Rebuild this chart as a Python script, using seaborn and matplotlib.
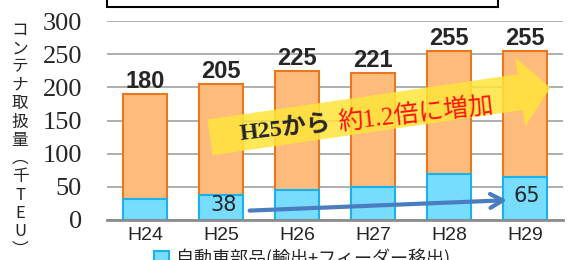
import matplotlib
matplotlib.use('Agg')
import matplotlib.pyplot as plt
from matplotlib.patches import Rectangle, FancyArrowPatch, Patch
import pandas as pd
import seaborn as sns

sns.set_style('white')
plt.rcParams['font.family'] = ['Liberation Sans', 'Noto Sans CJK JP', 'DejaVu Sans']

years = ['H24', 'H25', 'H26', 'H27', 'H28', 'H29']
total = [190, 205, 225, 221, 255, 255]          # bar heights as drawn
total_labels = ['180', '205', '225', '221', '255', '255']
parts = [32, 38, 45, 49, 69, 65]                 # 自動車部品
parts_labels = {1: '38', 5: '65'}
legend_label = '自動車部品(輸出+フィーダー移出)'
ylabel_chars = ['コ', 'ン', 'テ', 'ナ', '取', '扱', '量', '︵', '千', 'T', 'E', 'U', '︶']

df = pd.DataFrame({'year': years, 'total': total, 'parts': parts})

fig = plt.figure(figsize=(5.73, 2.6), dpi=100)
ax = fig.add_axes([107 / 573, 40 / 260, 456 / 573, 199 / 260])

sns.barplot(data=df, x='year', y='total', color='#FDBB7C', edgecolor='#E8771F',
            linewidth=1.5, width=0.58, saturation=1, ax=ax, zorder=2)
sns.barplot(data=df, x='year', y='parts', color='#78DCFF', edgecolor='#1AB2EC',
            linewidth=1.5, width=0.58, saturation=1, ax=ax, zorder=3)

ax.set_xlim(-0.5, 5.5)
ax.set_ylim(0, 300)
ax.set_yticks(range(0, 301, 50))
ax.grid(axis='y', color='#A8A8A8', lw=1.3, zorder=0)
ax.set_axisbelow(True)
for s in ['top', 'right', 'left']:
    ax.spines[s].set_visible(False)
ax.spines['bottom'].set_color('#8C8C8C')
ax.spines['bottom'].set_linewidth(2)
ax.spines['bottom'].set_zorder(5)
ax.tick_params(length=0)
ax.tick_params(axis='y', pad=18, labelsize=19, labelfontfamily='Liberation Serif')
ax.tick_params(axis='x', pad=5, labelsize=14)
ax.set_xlabel('')
ax.set_ylabel('')

for i, lab in enumerate(total_labels):
    ax.text(i, total[i] + 9, lab, ha='center', va='baseline', fontsize=17,
            fontweight='bold', zorder=6)
for i, lab in parts_labels.items():
    ax.text(i + 0.03, parts[i] / 2 + 4, lab, ha='center', va='center', fontsize=15,
            family=['Liberation Sans Narrow', 'DejaVu Sans'], zorder=6)

# yellow arrow
ax.add_patch(FancyArrowPatch((0.82, 124), (5.37, 200),
             arrowstyle='simple,tail_width=2.6,head_width=5,head_length=2.2',
             mutation_scale=10, facecolor='#FFE53A', edgecolor='none',
             alpha=0.85, zorder=7))
ax.text(1.25, 120, 'H25から', rotation=6.5, rotation_mode='anchor', ha='left',
        va='baseline', fontsize=17.5, fontweight='bold',
        family=['Liberation Serif', 'Noto Sans CJK JP'], zorder=8)
ax.text(2.55, 136, '約1.2倍に増加', rotation=6.5, rotation_mode='anchor', ha='left',
        va='baseline', fontsize=18, color='#FF1010',
        family=['Liberation Serif', 'Noto Sans CJK JP'], zorder=8)

# blue arrow
ax.annotate('', xy=(4.8, 30), xytext=(1.34, 14),
            arrowprops=dict(arrowstyle='->,head_width=0.5,head_length=0.9',
                            color='#4A7CC0', lw=3), zorder=8)

# y label, vertical
fig.text(20 / 573, 1 - 22 / 260, '\n'.join(ylabel_chars), ha='center', va='top',
         fontsize=12, linespacing=1.1, family=['Noto Sans CJK JP', 'DejaVu Sans'])

# top box (clipped)
fig.patches.append(Rectangle((107 / 573, 1 - 7 / 260), 391 / 573, 20 / 260,
                             transform=fig.transFigure, facecolor='white',
                             edgecolor='black', lw=1.5))

handles = [Patch(facecolor='#78DCFF', edgecolor='#1AB2EC', lw=1.5)]
fig.legend(handles, [legend_label], loc='upper left',
           bbox_to_anchor=(138 / 573, 1 - 233 / 260), frameon=False,
           handlelength=0.8, handleheight=0.8, handletextpad=0.4,
           prop={'family': ['Noto Sans CJK JP', 'DejaVu Sans'], 'size': 13})

fig.savefig('out.png', dpi=100)
